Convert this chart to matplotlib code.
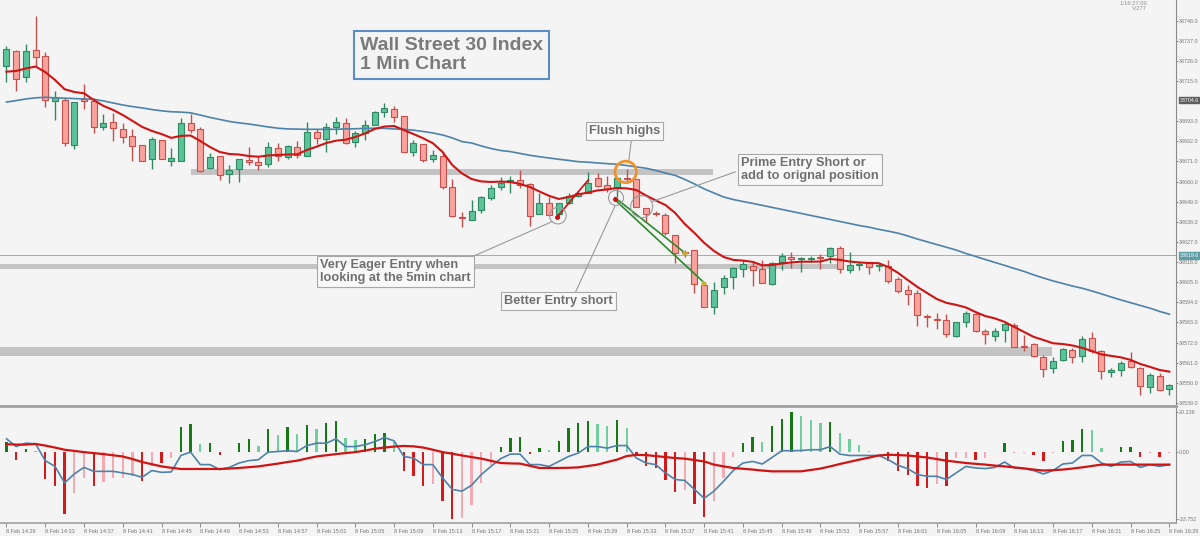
import matplotlib
matplotlib.use("Agg")
import matplotlib.pyplot as plt
import numpy as np

# candles, bar 0 = 8 Feb 14:29, one bar per minute
opens = [38723.2, 38731.6, 38717.4, 38732.0, 38728.7, 38704.2, 38704.6, 38680.2, 38705.0, 38704.2,
         38690.0, 38692.8, 38688.6, 38684.9, 38680.2, 38672.2, 38682.8, 38671.4, 38671.4, 38691.9,
         38688.6, 38667.6, 38674.2, 38664.0, 38667.1, 38671.8, 38670.9, 38669.6, 38678.2, 38673.6,
         38679.1, 38674.2, 38687.0, 38683.1, 38689.7, 38692.2, 38681.8, 38686.7, 38690.8, 38697.9,
         38699.7, 38695.9, 38676.4, 38680.6, 38672.5, 38674.2, 38656.9, 38640.8, 38639.0, 38644.5,
         38651.2, 38657.2, 38660.0, 38660.9, 38658.5, 38642.1, 38648.5, 38642.3, 38648.5, 38652.1,
         38654.0, 38661.8, 38658.2, 38656.4, 38662.1, 38661.3, 38645.4, 38643.0, 38641.8, 38630.8,
         38621.7, 38622.6, 38603.5, 38591.6, 38602.6, 38607.7, 38612.2, 38614.0, 38612.2, 38604.0,
         38616.2, 38619.0, 38617.7, 38617.5, 38618.6, 38619.3, 38623.5, 38611.7, 38614.3, 38615.4,
         38613.9, 38614.0, 38606.8, 38600.8, 38599.0, 38586.7, 38585.1, 38584.4, 38575.8, 38583.4,
         38587.6, 38578.3, 38575.8, 38578.9, 38581.6, 38570.3, 38571.1, 38564.3, 38557.9, 38562.5,
         38567.9, 38564.7, 38574.7, 38567.4, 38556.1, 38557.0, 38561.9, 38557.9, 38547.9, 38553.9,
         38546.5]
highs = [38734.2, 38732.0, 38735.1, 38750.6, 38731.0, 38709.5, 38705.6, 38703.4, 38713.4, 38705.6,
         38697.0, 38697.7, 38691.9, 38688.6, 38680.2, 38684.2, 38682.8, 38678.2, 38694.6, 38697.0,
         38689.7, 38675.8, 38674.2, 38669.1, 38672.2, 38679.1, 38673.6, 38681.8, 38681.3, 38680.0,
         38682.4, 38692.8, 38688.6, 38691.9, 38695.2, 38694.6, 38687.8, 38693.7, 38698.8, 38702.8,
         38701.3, 38695.9, 38682.8, 38680.6, 38677.3, 38676.0, 38661.3, 38643.6, 38650.0, 38652.1,
         38658.2, 38662.7, 38663.1, 38666.4, 38659.1, 38653.9, 38651.6, 38648.2, 38653.8, 38654.5,
         38665.4, 38664.5, 38663.1, 38661.8, 38666.7, 38661.6, 38645.4, 38644.0, 38642.7, 38630.8,
         38622.5, 38622.6, 38603.5, 38605.3, 38609.0, 38613.5, 38617.2, 38616.2, 38617.2, 38615.9,
         38620.8, 38621.4, 38618.6, 38619.3, 38620.3, 38624.4, 38624.8, 38621.7, 38616.2, 38616.2,
         38615.7, 38617.2, 38608.0, 38603.5, 38600.8, 38587.6, 38588.0, 38587.6, 38583.4, 38589.4,
         38588.0, 38579.4, 38579.8, 38583.1, 38582.5, 38576.2, 38571.9, 38565.2, 38563.9, 38568.9,
         38568.9, 38575.6, 38577.6, 38568.0, 38557.9, 38561.9, 38567.0, 38558.8, 38555.6, 38555.6,
         38549.4]
lows = [38714.6, 38709.5, 38714.6, 38722.8, 38700.6, 38693.7, 38679.5, 38677.7, 38699.5, 38686.4,
        38688.2, 38682.4, 38681.3, 38671.4, 38671.4, 38666.7, 38672.2, 38668.5, 38671.4, 38686.4,
        38665.3, 38666.7, 38660.9, 38659.1, 38660.0, 38669.1, 38666.4, 38667.8, 38671.4, 38672.2,
        38673.1, 38674.2, 38680.4, 38676.4, 38686.0, 38680.6, 38678.8, 38682.8, 38690.8, 38695.5,
        38692.8, 38676.2, 38674.2, 38670.9, 38670.9, 38655.8, 38640.8, 38635.4, 38639.0, 38643.0,
        38650.0, 38655.4, 38653.6, 38656.4, 38635.7, 38642.1, 38641.8, 38639.9, 38648.0, 38651.8,
        38653.6, 38657.2, 38654.5, 38651.4, 38659.1, 38646.0, 38638.1, 38641.0, 38630.8, 38615.4,
        38619.0, 38599.0, 38591.6, 38587.6, 38598.6, 38601.3, 38608.0, 38603.1, 38604.4, 38603.5,
        38611.7, 38612.6, 38610.8, 38616.2, 38612.1, 38615.4, 38609.9, 38610.2, 38611.7, 38609.5,
        38611.3, 38604.4, 38599.3, 38592.6, 38581.1, 38580.4, 38579.3, 38574.9, 38574.9, 38580.4,
        38578.0, 38571.2, 38573.0, 38572.5, 38569.4, 38567.6, 38563.9, 38553.4, 38555.5, 38561.9,
        38560.7, 38561.6, 38566.5, 38552.1, 38553.4, 38553.9, 38557.9, 38543.4, 38544.3, 38545.7,
        38543.4]
closes = [38732.3, 38716.1, 38731.6, 38728.0, 38704.6, 38706.1, 38680.9, 38703.4, 38704.1, 38689.7,
          38691.9, 38689.2, 38684.2, 38679.5, 38671.4, 38683.1, 38672.2, 38672.8, 38691.9, 38688.2,
          38666.0, 38673.6, 38663.6, 38666.4, 38672.2, 38670.9, 38669.1, 38679.1, 38674.0, 38679.5,
          38674.6, 38687.3, 38683.7, 38690.0, 38692.8, 38681.3, 38686.7, 38691.1, 38697.9, 38700.1,
          38695.2, 38676.2, 38681.3, 38671.8, 38674.6, 38656.9, 38641.2, 38640.1, 38644.1, 38651.4,
          38656.7, 38659.1, 38660.9, 38658.2, 38641.4, 38648.5, 38641.8, 38648.2, 38652.1, 38653.6,
          38659.4, 38657.6, 38655.8, 38661.8, 38661.4, 38646.3, 38642.3, 38642.3, 38631.8, 38620.8,
          38620.8, 38603.9, 38591.6, 38600.8, 38607.2, 38612.6, 38614.8, 38611.7, 38604.4, 38615.4,
          38619.5, 38617.5, 38618.1, 38618.2, 38618.2, 38623.9, 38612.1, 38614.4, 38614.8, 38613.5,
          38614.4, 38605.8, 38600.4, 38598.6, 38587.1, 38585.8, 38584.4, 38576.5, 38583.4, 38588.0,
          38578.3, 38576.5, 38578.3, 38582.2, 38569.7, 38569.7, 38564.7, 38557.4, 38561.9, 38568.3,
          38564.0, 38573.8, 38567.4, 38556.5, 38557.0, 38560.7, 38558.5, 38548.4, 38554.3, 38546.1,
          38548.8]

# fast (red) and slow (blue) moving averages
ma_fast = [38720.1, 38720.5, 38721.9, 38722.9, 38719.9, 38715.6, 38710.5, 38709.0, 38708.3, 38704.6,
           38701.4, 38699.2, 38696.4, 38693.2, 38689.9, 38687.7, 38686.0, 38683.9, 38685.0, 38685.2,
           38682.2, 38678.9, 38676.2, 38675.1, 38674.8, 38674.0, 38673.6, 38674.3, 38674.6, 38674.8,
           38674.9, 38677.3, 38679.1, 38681.1, 38682.4, 38682.9, 38684.4, 38686.3, 38688.8, 38690.1,
           38690.4, 38688.2, 38686.0, 38683.7, 38681.0, 38676.2, 38669.1, 38664.5, 38661.4, 38660.1,
           38659.8, 38660.0, 38659.8, 38658.7, 38657.1, 38654.6, 38652.2, 38650.5, 38651.6, 38653.0,
           38654.0, 38655.2, 38655.7, 38656.5, 38656.3, 38655.4, 38652.4, 38649.7, 38647.2, 38642.9,
           38636.8, 38631.9, 38626.5, 38622.1, 38618.8, 38617.2, 38616.8, 38616.1, 38614.2, 38614.4,
           38615.2, 38615.8, 38616.2, 38616.2, 38616.3, 38617.7, 38617.2, 38616.3, 38615.8, 38615.5,
           38615.4, 38613.3, 38610.1, 38606.2, 38602.4, 38599.1, 38595.8, 38593.7, 38592.6, 38591.2,
           38588.7, 38586.5, 38585.2, 38583.3, 38580.5, 38577.8, 38575.1, 38573.4, 38571.6, 38571.2,
           38570.4, 38569.1, 38567.4, 38565.5, 38564.7, 38563.9, 38562.5, 38560.3, 38558.7, 38557.0,
           38556.1]
ma_slow = [38703.5, 38704.3, 38705.2, 38705.8, 38706.1, 38705.8, 38705.6, 38705.4, 38705.2, 38705.0,
           38704.1, 38703.0, 38701.9, 38701.0, 38700.3, 38699.4, 38698.7, 38698.2, 38698.0, 38697.6,
           38696.4, 38695.1, 38694.0, 38692.9, 38692.1, 38691.5, 38690.7, 38689.9, 38689.2, 38688.8,
           38688.7, 38688.6, 38688.6, 38688.6, 38688.6, 38688.8, 38688.9, 38689.1, 38689.2, 38689.1,
           38688.8, 38688.6, 38688.1, 38687.4, 38686.6, 38685.5, 38683.9, 38681.9, 38681.1, 38679.5,
           38678.1, 38677.0, 38676.4, 38675.4, 38674.4, 38673.6, 38672.9, 38672.2, 38671.6, 38670.9,
           38670.6, 38670.2, 38669.8, 38669.5, 38668.8, 38668.0, 38667.3, 38666.1, 38664.7, 38663.4,
           38661.2, 38658.7, 38656.0, 38653.8, 38651.6, 38650.2, 38649.1, 38648.1, 38647.0, 38645.9,
           38644.8, 38643.7, 38642.6, 38641.5, 38640.4, 38639.3, 38638.2, 38637.1, 38636.0, 38635.1,
           38633.9, 38632.9, 38631.8, 38630.3, 38628.6, 38627.1, 38625.6, 38624.1, 38622.6, 38620.7,
           38619.1, 38617.4, 38615.8, 38614.2, 38612.5, 38610.9, 38609.0, 38607.3, 38605.7, 38604.3,
           38602.9, 38601.7, 38600.2, 38598.6, 38596.9, 38595.3, 38593.8, 38592.3, 38590.8, 38589.0,
           38587.5]

# lower panel: histogram (value + colour code), blue line, red signal
hist = [5.3, -3.8, 1.7, 0.5, -13.8, -17.2, -31.3, -20.5, -13.0, -17.2,
        -15.0, -13.0, -13.0, -12.2, -14.7, -7.2, -5.5, -3.0, 12.5, 14.0,
        4.0, 4.5, -1.3, 0.3, 4.8, 6.7, 3.0, 11.5, 8.7, 12.5,
        9.0, 13.5, 11.5, 14.5, 15.5, 7.3, 6.2, 6.7, 9.0, 9.5,
        5.3, -9.7, -12.2, -17.2, -16.3, -24.7, -33.7, -33.2, -26.7, -15.5,
        -6.3, 2.8, 7.3, 7.8, -0.8, 2.3, 1.2, 5.7, 12.0, 14.5,
        15.5, 14.0, 13.0, 16.0, 12.0, -2.2, -7.2, -8.0, -14.3, -20.2,
        -19.3, -26.3, -32.7, -24.7, -13.0, -2.7, 4.5, 7.8, 5.3, 13.0,
        16.5, 20.2, 18.0, 16.0, 14.5, 15.0, 9.5, 6.7, 3.7, 0.8,
        0.3, -4.7, -9.3, -11.3, -17.2, -18.0, -16.3, -17.2, -3.0, -3.0,
        -3.8, -3.0, 0.3, 4.5, -0.3, -0.3, -1.3, -4.3, -0.5, 5.7,
        6.2, 11.5, 11.0, 2.3, 0.3, 2.8, 2.8, -2.7, -0.3, -2.7,
        -0.3]
hist_kind = ["g", "r", "g", "lg", "r", "r", "r", "p", "p", "r",
             "p", "p", "p", "p", "r", "p", "r", "p", "g", "g",
             "lg", "g", "r", "lg", "g", "g", "lg", "g", "lg", "g",
             "lg", "g", "lg", "g", "g", "lg", "lg", "g", "g", "g",
             "lg", "r", "r", "r", "p", "r", "r", "p", "p", "p",
             "p", "g", "g", "g", "r", "g", "lg", "g", "g", "g",
             "g", "lg", "lg", "g", "lg", "r", "r", "r", "r", "r",
             "p", "r", "r", "p", "p", "p", "g", "g", "lg", "g",
             "g", "g", "lg", "lg", "lg", "g", "lg", "lg", "lg", "lg",
             "lg", "r", "r", "r", "r", "r", "p", "r", "p", "p",
             "r", "p", "lg", "g", "p", "p", "r", "r", "p", "g",
             "g", "g", "lg", "lg", "lg", "g", "g", "r", "p", "r",
             "p"]
macd_line = [6.7, 2.8, 4.5, 4.2, -4.3, -7.2, -15.5, -11.0, -7.7, -9.7,
             -9.7, -9.7, -10.5, -11.3, -12.7, -9.3, -10.2, -10.0, -1.7, 0.0,
             -6.3, -6.3, -8.8, -7.7, -5.5, -4.3, -3.8, 0.0, 0.3, 0.7,
             0.3, 3.3, 4.5, 4.5, 6.7, 2.8, 2.8, 3.7, 5.3, 7.3,
             5.7, -2.2, -3.0, -6.3, -6.3, -13.0, -18.8, -19.7, -16.7, -11.3,
             -7.2, -3.3, -1.0, -1.0, -6.3, -6.3, -7.2, -4.7, -2.2, -0.5,
             2.8, 2.8, 2.0, 3.3, 3.3, -3.0, -5.5, -6.3, -10.5, -13.8,
             -14.3, -18.8, -23.3, -19.7, -14.7, -9.3, -5.5, -4.7, -6.0, -2.7,
             0.7, 0.7, 0.8, 1.2, 1.2, 2.8, -1.0, -1.7, -1.7, -1.7,
             -1.7, -3.8, -6.7, -8.3, -11.3, -12.2, -12.2, -13.8, -10.5, -7.2,
             -8.0, -8.3, -7.7, -5.0, -8.0, -8.3, -9.3, -11.0, -9.3, -6.0,
             -5.5, -1.7, -1.7, -5.5, -7.2, -5.0, -4.7, -7.7, -6.3, -7.2,
             -6.3]
signal = [4.0, 3.8, 3.8, 4.1, 3.3, 2.3, 1.2, 0.6, 0.0, -0.5,
          -1.0, -1.6, -2.2, -3.5, -5.0, -6.1, -7.2, -7.9, -8.5, -8.5,
          -8.5, -8.5, -8.5, -8.3, -8.0, -7.6, -7.2, -6.5, -5.8, -5.0,
          -4.3, -3.2, -2.2, -1.6, -1.0, -0.5, 0.0, 0.8, 1.7, 2.3,
          2.8, 3.1, 2.9, 2.3, 1.2, 0.0, -0.8, -1.7, -2.5, -3.3,
          -4.4, -5.5, -5.7, -5.8, -6.9, -8.0, -8.0, -8.0, -7.9, -7.7,
          -7.0, -6.3, -5.0, -3.8, -2.0, -1.4, -1.5, -2.0, -2.5, -3.0,
          -3.3, -4.0, -4.7, -6.3, -7.2, -8.0, -8.4, -8.8, -9.3, -9.7,
          -9.7, -9.7, -9.7, -9.0, -8.3, -7.2, -6.0, -4.9, -3.8, -2.8,
          -1.7, -1.3, -1.5, -1.7, -2.2, -2.7, -3.5, -4.3, -4.9, -5.5,
          -5.9, -6.3, -6.8, -7.2, -7.7, -8.2, -8.8, -9.3, -9.1, -8.8,
          -8.3, -7.7, -7.0, -6.3, -6.3, -6.3, -6.3, -6.3, -6.3, -6.3,
          -6.3]

time_labels = ["14:29", "14:33", "14:37", "14:41", "14:45", "14:49", "14:53", "14:57",
               "15:01", "15:05", "15:09", "15:13", "15:17", "15:21", "15:25", "15:29",
               "15:33", "15:37", "15:41", "15:45", "15:49", "15:53", "15:57", "16:01",
               "16:05", "16:09", "16:13", "16:17", "16:21", "16:25", "16:29"]
price_ticks = [38748.0, 38737.0, 38726.0, 38715.0, 38693.0, 38682.0, 38671.0,
               38660.0, 38649.0, 38638.0, 38627.0, 38616.0, 38605.0, 38594.0, 38583.0,
               38572.0, 38561.0, 38550.0, 38539.0]
# support / resistance zones: (low, high, first bar, last bar)
zones = [(38663.4, 38666.9, 19.0, 72.9),
         (38612.0, 38615.0, -1.0, 85.7),
         (38564.7, 38569.4, -1.0, 107.9)]
last_price = 38619.6
marked_price = 38704.6

BG = "#f4f4f4"
GREEN_FILL, GREEN_EDGE = "#5dc39b", "#2f8a62"
RED_FILL, RED_EDGE = "#f8a39d", "#c8504c"
HIST_COL = {"g": "#157a15", "lg": "#6fcf9f", "r": "#d41a1a", "p": "#f5a9b0"}
TXT = "#707070"
plt.rcParams["font.family"] = ["Liberation Sans", "DejaVu Sans"]

fig = plt.figure(figsize=(12, 5.36), dpi=100, facecolor=BG)
ax = fig.add_axes([0, 1 - 406 / 536, 1176 / 1200, 406 / 536], facecolor=BG)
ax2 = fig.add_axes([0, 1 - 523 / 536, 1176 / 1200, 115 / 536], facecolor=BG)

x = np.arange(len(opens))

# zones and last price line
for lo, hi, x0, x1 in zones:
    ax.fill_between([x0, x1], lo, hi, color="#c3c3c3", lw=0, zorder=1)
ax.axhline(last_price, color="#8ab4c0", lw=0.7, zorder=1)

# candles
for i in x:
    o, h, l, c = opens[i], highs[i], lows[i], closes[i]
    up = c >= o
    fill = GREEN_FILL if up else RED_FILL
    edge = GREEN_EDGE if up else RED_EDGE
    ax.vlines(i, l, h, color=edge, lw=1.0, zorder=2)
    body = max(abs(c - o), 0.5)
    ax.bar(i, body, bottom=min(o, c), width=0.62, color=fill, edgecolor=edge,
           lw=0.8, zorder=3)

ax.plot(x, ma_slow, color="#4d82aa", lw=1.2, zorder=4)
ax.plot(x, ma_fast, color="#cf1414", lw=1.5, zorder=5)

# trade lines
ax.plot([56.84, 60.04], [38640.8, 38660.9], color="#d01010", lw=1.2, zorder=6)
ax.plot([56.84], [38640.8], "o", color="#d01010", ms=2.5, zorder=6)
ax.plot([62.8, 70.0], [38651.2, 38621.1], color="#2a8a2a", lw=1.2, zorder=6)
ax.plot([62.8, 72.0], [38650.0, 38604.7], color="#2a8a2a", lw=1.2, zorder=6)
ax.plot([62.8], [38650.6], "o", color="#d01010", ms=2.5, zorder=6)
ax.plot([70.0, 72.0], [38621.1, 38604.7], ">", color="#c8b030", ms=3, zorder=6)

# callout lines and circles
call = dict(color="#9a9a9a", lw=0.8, zorder=7)
ax.plot([64.5, 64.2], [38683.3, 38670.9], **call)
ax.plot([58.7, 62.8], [38599.3, 38646.7], **call)
ax.plot([47.8, 56.3], [38618.3, 38638.1], **call)
ax.plot([66.6, 75.2], [38649.0, 38665.3], **call)
ax.scatter([56.9, 62.9, 65.55], [38641.4, 38651.1, 38646.3], s=[143, 117, 251],
           facecolors="none", edgecolors="#9a9a9a", lw=0.8, zorder=7)
ax.scatter([63.9], [38665.3], s=237, facecolors="none", edgecolors="#f0922b",
           lw=2, zorder=8)

# text boxes
box = dict(boxstyle="square,pad=0.25", fc="#f8f8f8", ec="#a8a8a8", lw=0.8)
ax.text(36.48, 38729.2, "Wall Street 30 Index\n1 Min Chart", fontsize=14,
        fontweight="bold", color="#7a7a7a", ha="left", va="center", linespacing=1.15,
        bbox=dict(boxstyle="square,pad=0.3", fc=BG, ec="#5b8cc4", lw=1.5), zorder=9)
ax.text(63.78, 38687.7, "Flush highs", fontsize=9.2, fontweight="bold", color=TXT,
        ha="center", va="center", bbox=box, zorder=9)
ax.text(75.8, 38666.6, "Prime Entry Short or\nadd to orignal position", fontsize=9.2,
        fontweight="bold", color=TXT, ha="left", va="center", linespacing=1.1,
        bbox=box, zorder=9)
ax.text(32.35, 38610.9, "Very Eager Entry when\nlooking at the 5min chart", fontsize=9.2,
        fontweight="bold", color=TXT, ha="left", va="center", linespacing=1.1,
        bbox=box, zorder=9)
ax.text(56.99, 38594.6, "Better Entry short", fontsize=9.2, fontweight="bold",
        color=TXT, ha="center", va="center", bbox=box, zorder=9)

# price axis
ax.set_xlim(-0.67, 120.69)
ax.set_ylim(38537.3, 38759.3)
ax.set_xticks([])
ax.yaxis.tick_right()
ax.set_yticks(price_ticks)
ax.set_yticklabels([f"{p:.1f}" for p in price_ticks])
ax.tick_params(axis="y", length=1.5, width=0.6, pad=0.8, labelsize=3.9,
               colors="#777777")
for s in ["left", "top"]:
    ax.spines[s].set_visible(False)
ax.spines["right"].set_color("#8a8a8a")
ax.spines["right"].set_linewidth(0.8)
ax.spines["bottom"].set_color("#a0a0a0")
ax.spines["bottom"].set_linewidth(2)

for val, col in [(marked_price, "#5e5e5e"), (last_price, "#5f9ea6")]:
    ax.text(1.003, val, f"{val:.1f}", transform=ax.get_yaxis_transform(),
            fontsize=3.8, color="white", ha="left", va="center",
            bbox=dict(boxstyle="square,pad=0.15", fc=col, ec=col), clip_on=False)
ax.text(1147, 536 - 1, "1:16:27:00\nV:277", transform=None, fontsize=4.2,
        color="#909090", ha="right", va="top", linespacing=1.0)

# indicator panel
ax2.bar(x, hist, width=0.24, color=[HIST_COL[k] for k in hist_kind], zorder=2)
ax2.plot(x, macd_line, color="#4d82aa", lw=1.2, zorder=3)
ax2.plot(x, signal, color="#cf1414", lw=1.6, zorder=4)
ax2.set_xlim(-0.67, 120.69)
ax2.set_ylim(-35.75, 22.25)
ax2.yaxis.tick_right()
ax2.set_yticks([20.236, 0.0, -33.752])
ax2.set_yticklabels(["20.236", "0.00", "-33.752"])
ax2.tick_params(axis="y", length=1.5, width=0.6, pad=0.8, labelsize=3.9,
                colors="#777777")
ax2.set_xticks(np.arange(0, 121, 4))
ax2.set_xticklabels([f"8 Feb {t}" for t in time_labels], ha="left")
ax2.tick_params(axis="x", length=3, width=0.6, pad=1, labelsize=4.0,
                colors="#777777")
for s in ["left", "top"]:
    ax2.spines[s].set_visible(False)
ax2.spines["right"].set_color("#8a8a8a")
ax2.spines["right"].set_linewidth(0.8)
ax2.spines["bottom"].set_color("#a0a0a0")
ax2.spines["bottom"].set_linewidth(1.2)

fig.savefig("out.png", dpi=100, facecolor=BG)
